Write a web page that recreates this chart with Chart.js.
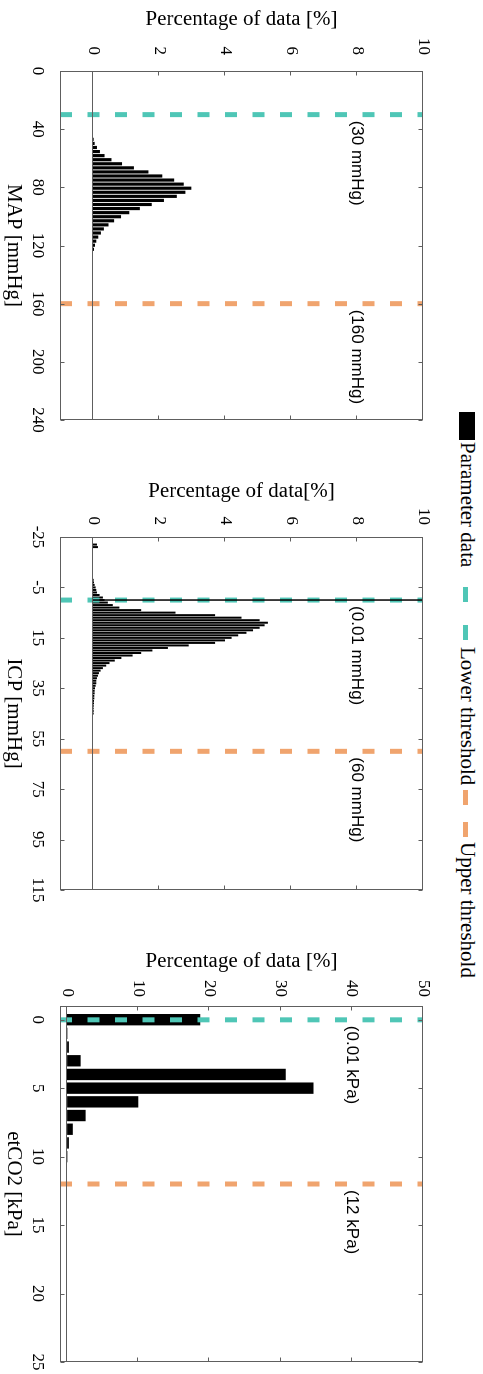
<!DOCTYPE html>
<html>
<head>
<meta charset="utf-8">
<script src="https://cdn.jsdelivr.net/npm/chart.js@4"></script>
<style>
html, body { margin: 0; padding: 0; background: #fff; }
body { width: 483px; height: 1374px; overflow: hidden; position: relative; }
/* figure is laid out landscape, then turned a quarter clockwise */
#fig { position: absolute; left: 0; top: 0; width: 1374px; height: 483px; background: #fff;
       transform-origin: 0 0; transform: translate(483px, 0) rotate(90deg); }
#fig canvas { position: absolute; top: 50px; }
.lg { position: absolute; top: 5px; font-family: 'Liberation Serif', serif; font-size: 21px; line-height: 21px; color: #000; white-space: nowrap; }
.sw { position: absolute; }
</style>
</head>
<body>
<div id="fig">
  <div class="sw" style="left:412px;top:8px;width:28px;height:16px;background:#000"></div>
  <div class="lg" style="left:442px">Parameter data</div>
  <div class="sw" style="left:587px;top:15px;width:15px;height:5px;background:#4fc6b6"></div>
  <div class="sw" style="left:625px;top:15px;width:15px;height:5px;background:#4fc6b6"></div>
  <div class="lg" style="left:647px">Lower threshold</div>
  <div class="sw" style="left:790px;top:15px;width:15px;height:5px;background:#f0a46e"></div>
  <div class="sw" style="left:822px;top:15px;width:15px;height:5px;background:#f0a46e"></div>
  <div class="lg" style="left:842px">Upper threshold</div>
  <canvas id="c1" width="445" height="433" style="left:0"></canvas>
  <canvas id="c2" width="449" height="433" style="left:466px"></canvas>
  <canvas id="c3" width="439" height="433" style="left:935px"></canvas>
</div>
<script>
// MAP histogram
var mapBins = [47.0, 49.8, 52.6, 55.4, 58.2, 61.0, 63.8, 66.6, 69.4, 72.2, 75.0, 77.8, 80.6, 83.4,
               86.2, 89.0, 91.8, 94.6, 97.4, 100.2, 103.0, 105.8, 108.6, 111.4, 114.2, 117.0, 119.8, 122.6];
var mapPct = [0.02, 0.05, 0.12, 0.21, 0.35, 0.56, 0.88, 1.24, 1.68, 2.10, 2.46, 2.75, 2.98, 2.80,
              2.54, 2.15, 1.78, 1.42, 1.10, 0.85, 0.64, 0.47, 0.33, 0.24, 0.16, 0.10, 0.06, 0.03];

// ICP histogram
var icpBins = [-22, -21, -20, -19, -18, -17, -16, -15, -14, -13, -12, -11, -10, -9, -8, -7, -6, -5, -4, -3, -2, -1,
               0, 1, 2, 3, 4, 5, 6, 7, 8, 9, 10, 11, 12, 13, 14, 15, 16, 17, 18, 19, 20, 21, 22, 23, 24, 25,
               26, 27, 28, 29, 30, 31, 32, 33, 34, 35, 36, 37, 38, 39, 40, 41, 42, 43, 44, 45];
var icpPct = [0.12, 0.15, 0, 0, 0, 0, 0, 0, 0, 0, 0, 0, 0, 0, 0.02, 0.03, 0.05, 0.08, 0.10, 0.12, 0.20, 0.30,
              0.35, 0.45, 0.60, 0.80, 1.46, 2.50, 3.70, 4.50, 5.05, 5.30, 5.20, 5.05, 4.85, 4.65, 4.40, 4.20,
              4.00, 3.70, 2.90, 2.27, 1.80, 1.46, 1.20, 0.86, 0.66, 0.50, 0.40, 0.30, 0.23, 0.18, 0.15, 0.12,
              0.10, 0.10, 0.08, 0.06, 0.05, 0.05, 0.04, 0.04, 0.03, 0.03, 0.02, 0.02, 0.02, 0.02];

// etCO2 histogram
var co2Bins = [0, 1, 2, 3, 4, 5, 6, 7, 8, 9, 10];
var co2Pct = [18.7, 0.05, 0.25, 1.9, 30.7, 34.6, 10.0, 2.6, 0.8, 0.25, 0.05];

// tick labels
var mapTicks = [0, 40, 80, 120, 160, 200, 240];
var icpTicks = [-25, -5, 15, 35, 55, 75, 95, 115];
var co2Ticks = [0, 5, 10, 15, 20, 25];
var pctTicks = [0, 2, 4, 6, 8, 10];
var co2PctTicks = [0, 10, 20, 30, 40, 50];

// thresholds
var mapLimits = [30, 160];
var icpLimits = [0.01, 60];
var co2Limits = [0.01, 12];

var TEAL = '#4fc6b6';
var ORANGE = '#f0a46e';
var SERIF = "'Liberation Serif', 'Times New Roman', serif";

// box, inward ticks and the bar baseline
var framePlugin = {
    id: 'frame',
    afterDraw: function(chart) {
        var ctx = chart.ctx, a = chart.chartArea, x = chart.scales.x, y = chart.scales.y;
        ctx.save();
        ctx.strokeStyle = '#5e5e5e';
        ctx.lineWidth = 1;
        function seg(x1, y1, x2, y2) { ctx.beginPath(); ctx.moveTo(x1, y1); ctx.lineTo(x2, y2); ctx.stroke(); }
        var l = Math.round(a.left) + 0.5, r = Math.round(a.right) - 0.5;
        var t = Math.round(a.top) + 0.5, b = Math.round(a.bottom) - 0.5;
        var y0 = Math.round(y.getPixelForValue(0)) + 0.5;
        seg(l, y0, r, y0);
        ctx.strokeRect(l, t, r - l, b - t);
        x.ticks.forEach(function(tk) {
            var p = Math.round(x.getPixelForValue(tk.value)) + 0.5;
            seg(p, b, p, b - 4);
            seg(p, t, p, t + 4);
        });
        y.ticks.forEach(function(tk) {
            var p = Math.round(y.getPixelForValue(tk.value)) + 0.5;
            seg(l, p, l + 4, p);
            seg(r, p, r - 4, p);
        });
        ctx.restore();
    }
};

// "(30 mmHg)" style notes next to the threshold lines
var notePlugin = {
    id: 'notes',
    afterDatasetsDraw: function(chart, args, opts) {
        var ctx = chart.ctx, x = chart.scales.x, y = chart.scales.y;
        ctx.save();
        ctx.font = "17px 'Liberation Sans', Arial, sans-serif";
        ctx.fillStyle = '#000';
        ctx.textAlign = 'left';
        ctx.textBaseline = 'middle';
        opts.items.forEach(function(n) {
            ctx.fillText(n.text, x.getPixelForValue(n.x) + 6, y.getPixelForValue(n.y));
        });
        ctx.restore();
    }
};

function vline(xv, y1, y2, color, width, dash) {
    return {
        type: 'line',
        data: [{x: xv, y: y1}, {x: xv, y: y2}],
        borderColor: color,
        borderWidth: width,
        borderDash: dash || [],
        pointRadius: 0,
        fill: false
    };
}

function makePanel(id, p) {
    var datasets = [];
    var bars = {
        type: 'bar',
        data: p.bins.map(function(b, i) { return {x: b, y: p.pct[i]}; }),
        backgroundColor: '#000',
        borderWidth: 0,
        barPercentage: p.barPct,
        categoryPercentage: 1,
        order: 3
    };
    datasets.push(bars);
    var lo = vline(p.limits[0], -1, p.yMax, TEAL, 5, [12, 15.5]); lo.order = 2;
    var hi = vline(p.limits[1], -1, p.yMax, ORANGE, 5, [12, 15.5]); hi.order = 2;
    datasets.push(lo, hi);
    if (p.zeroLine) {
        var z = vline(0, 0, p.yMax, '#000', 1.5); z.order = 1;
        datasets.push(z);
    }
    new Chart(document.getElementById(id), {
        type: 'bar',
        data: {datasets: datasets},
        plugins: [notePlugin, framePlugin],
        options: {
            responsive: false,
            animation: false,
            devicePixelRatio: 1,
            layout: {padding: {top: 10, right: p.padRight, bottom: 0, left: 0}},
            plugins: {
                legend: {display: false},
                tooltip: {enabled: false},
                notes: {items: [
                    {x: p.limits[0], y: p.yMax * 0.8, text: p.notes[0]},
                    {x: p.limits[1], y: p.yMax * 0.8, text: p.notes[1]}
                ]}
            },
            scales: {
                x: {
                    type: 'linear', position: 'bottom', min: p.xMin, max: p.xMax, offset: false,
                    afterBuildTicks: function(s) { s.ticks = p.xTicks.map(function(v) { return {value: v}; }); },
                    afterFit: function(s) { s.height = 60; s.paddingLeft = 0; s.paddingRight = 0; },
                    grid: {display: false, drawTicks: false},
                    border: {display: false},
                    ticks: {font: {family: SERIF, size: 17}, color: '#000', padding: 12, maxRotation: 0, autoSkip: false},
                    title: {display: true, text: p.xTitle, font: {family: SERIF, size: 21}, color: '#000', padding: {top: 0, bottom: 1}}
                },
                y: {
                    type: 'linear', min: -1, max: p.yMax,
                    afterBuildTicks: function(s) { s.ticks = p.yTicks.map(function(v) { return {value: v}; }); },
                    afterFit: function(s) { s.width = 71; s.paddingTop = 0; s.paddingBottom = 0; },
                    grid: {display: false, drawTicks: false},
                    border: {display: false},
                    ticks: {font: {family: SERIF, size: 17}, color: '#000', padding: p.tickPad, autoSkip: false},
                    title: {display: true, text: p.yTitle, font: {family: SERIF, size: 21}, color: '#000', padding: {top: p.titlePad, bottom: 0}}
                }
            }
        }
    });
}

makePanel('c1', {
    bins: mapBins, pct: mapPct, barPct: 0.78, limits: mapLimits, notes: ['(30 mmHg)', '(160 mmHg)'],
    xMin: 0, xMax: 240, xTicks: mapTicks, yMax: 10, yTicks: pctTicks, padRight: 25,
    xTitle: 'MAP [mmHg]', yTitle: 'Percentage of data [%]', tickPad: 16, titlePad: 7, zeroLine: true
});
makePanel('c2', {
    bins: icpBins, pct: icpPct, barPct: 0.8, limits: icpLimits, notes: ['(0.01 mmHg)', '(60 mmHg)'],
    xMin: -25, xMax: 115, xTicks: icpTicks, yMax: 10, yTicks: pctTicks, padRight: 25,
    xTitle: 'ICP [mmHg]', yTitle: 'Percentage of data[%]', tickPad: 12, titlePad: 13, zeroLine: true
});
makePanel('c3', {
    bins: co2Bins, pct: co2Pct, barPct: 0.83, limits: co2Limits, notes: ['(0.01 kPa)', '(12 kPa)'],
    xMin: -1, xMax: 25, xTicks: co2Ticks, yMax: 50, yTicks: co2PctTicks, padRight: 12,
    xTitle: 'etCO2 [kPa]', yTitle: 'Percentage of data [%]', tickPad: 9, titlePad: 14, zeroLine: false
});
</script>
</body>
</html>
